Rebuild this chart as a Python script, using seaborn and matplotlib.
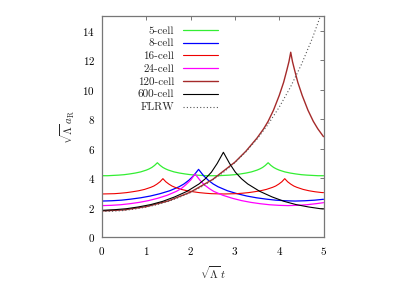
import matplotlib
matplotlib.use("Agg")
import matplotlib.pyplot as plt
import seaborn as sns

# ---- data ----
cell5_t = [0, 0.125, 0.25, 0.375, 0.5, 0.625, 0.75, 0.875, 1.0, 1.0625, 1.125, 1.1875, 1.25,
           1.3125, 1.375, 1.4375, 1.5, 1.625, 1.75, 1.875, 2.0, 2.125, 2.25, 2.375, 2.5,
           2.625, 2.75, 2.875, 3.0, 3.125, 3.25, 3.375, 3.5, 3.5625, 3.625, 3.6875, 3.75,
           3.8125, 3.875, 3.9375, 4.0, 4.125, 4.25, 4.375, 4.5, 4.625, 4.75, 4.875, 5.0]
cell5_a = [4.16, 4.16, 4.18, 4.20, 4.23, 4.28, 4.34, 4.42, 4.54, 4.62, 4.72, 4.86, 5.04,
           4.86, 4.72, 4.62, 4.54, 4.42, 4.34, 4.28, 4.23, 4.20, 4.18, 4.16, 4.16,
           4.16, 4.18, 4.20, 4.23, 4.28, 4.34, 4.42, 4.54, 4.62, 4.72, 4.86, 5.04,
           4.86, 4.72, 4.62, 4.54, 4.42, 4.34, 4.28, 4.23, 4.20, 4.18, 4.16, 4.16]

cell8_t = [0, 0.22, 0.44, 0.65, 0.87, 1.09, 1.31, 1.53, 1.74, 1.85, 1.96, 2.07, 2.18,
           2.29, 2.40, 2.51, 2.62, 2.83, 3.05, 3.27, 3.49, 3.71, 3.92, 4.14, 4.36,
           4.58, 4.80, 5.0]
cell8_a = [2.44, 2.46, 2.50, 2.57, 2.66, 2.78, 2.94, 3.14, 3.41, 3.60, 3.85, 4.17, 4.59,
           4.17, 3.85, 3.60, 3.41, 3.14, 2.94, 2.78, 2.66, 2.57, 2.50, 2.46, 2.44,
           2.46, 2.50, 2.56]

cell16_t = [0, 0.14, 0.28, 0.41, 0.55, 0.69, 0.83, 0.96, 1.10, 1.17, 1.24, 1.31, 1.375,
            1.44, 1.51, 1.58, 1.65, 1.79, 1.92, 2.06, 2.20, 2.34, 2.47, 2.61, 2.75,
            2.89, 3.03, 3.16, 3.30, 3.44, 3.58, 3.71, 3.85, 3.92, 3.99, 4.06, 4.125,
            4.19, 4.26, 4.33, 4.40, 4.54, 4.67, 4.81, 4.95, 5.0]
cell16_a = [2.92, 2.93, 2.94, 2.97, 3.01, 3.07, 3.14, 3.23, 3.37, 3.46, 3.59, 3.75, 3.96,
            3.75, 3.59, 3.46, 3.37, 3.23, 3.14, 3.07, 3.01, 2.97, 2.94, 2.93, 2.92,
            2.93, 2.94, 2.97, 3.01, 3.07, 3.14, 3.23, 3.37, 3.46, 3.59, 3.75, 3.96,
            3.75, 3.59, 3.46, 3.37, 3.23, 3.14, 3.07, 3.02, 3.01]

cell24_t = [0, 0.21, 0.42, 0.63, 0.84, 1.05, 1.26, 1.47, 1.68, 1.79, 1.89, 2.00, 2.10,
            2.21, 2.31, 2.42, 2.52, 2.73, 2.94, 3.15, 3.36, 3.57, 3.78, 3.99, 4.20,
            4.41, 4.62, 4.83, 5.0]
cell24_a = [2.13, 2.15, 2.19, 2.26, 2.35, 2.47, 2.63, 2.83, 3.10, 3.29, 3.54, 3.86, 4.28,
            3.86, 3.54, 3.29, 3.10, 2.83, 2.63, 2.47, 2.35, 2.26, 2.19, 2.15, 2.13,
            2.15, 2.19, 2.26, 2.33]

cell120_t = [0, 0.5, 1.0, 1.5, 2.0, 2.5, 3.0, 3.25, 3.5, 3.65, 3.75, 3.87, 4.0, 4.1,
             4.17, 4.22, 4.26, 4.30, 4.35, 4.42, 4.52, 4.65, 4.77, 4.87, 5.0]
cell120_a = [1.77, 1.84, 2.06, 2.45, 3.05, 3.91, 5.08, 5.83, 6.72, 7.35, 7.85, 8.6, 9.6, 10.5,
             11.3, 11.9, 12.54, 11.9, 11.3, 10.5, 9.6, 8.6, 7.85, 7.35, 6.81]

cell600_t = [0, 0.27, 0.55, 0.82, 1.10, 1.37, 1.64, 1.92, 2.19, 2.33, 2.47, 2.60, 2.74,
             2.88, 3.01, 3.15, 3.29, 3.56, 3.84, 4.11, 4.38, 4.66, 4.93, 5.0]
cell600_a = [1.81, 1.85, 1.92, 2.04, 2.20, 2.42, 2.72, 3.10, 3.60, 3.95, 4.40, 4.99, 5.75,
             4.99, 4.40, 3.95, 3.60, 3.10, 2.72, 2.42, 2.20, 2.04, 1.92, 1.90]

flrw_t = [0, 0.25, 0.5, 0.75, 1.0, 1.25, 1.5, 1.75, 2.0, 2.25, 2.5, 2.75, 3.0, 3.25, 3.5,
          3.75, 4.0, 4.25, 4.5, 4.75, 5.0]
flrw_a = [1.73, 1.75, 1.80, 1.90, 2.03, 2.20, 2.42, 2.70, 3.02, 3.41, 3.88, 4.41, 5.05, 5.79,
          6.65, 7.65, 8.81, 10.15, 11.70, 13.50, 15.58]

labels = ["5-cell", "8-cell", "16-cell", "24-cell", "120-cell", "600-cell", "FLRW"]
x_ticks = [0, 1, 2, 3, 4, 5]
y_ticks = [0, 2, 4, 6, 8, 10, 12, 14]

# ---- style ----
sns.set_theme(style="white")
plt.rcParams["font.family"] = ["cmr10", "DejaVu Serif"]
plt.rcParams["mathtext.fontset"] = "cm"
plt.rcParams["axes.formatter.use_mathtext"] = True

fig = plt.figure(figsize=(4.02, 2.82), dpi=100)
ax = fig.add_axes([102 / 402, 45 / 282, 221.5 / 402, 221 / 282])

series = [
    (cell5_t, cell5_a, "#33ee33", "-", 0.9),
    (cell8_t, cell8_a, "#0000ff", "-", 0.9),
    (cell16_t, cell16_a, "#ee0000", "-", 0.8),
    (cell24_t, cell24_a, "#ff00ff", "-", 0.9),
    (cell120_t, cell120_a, "#a52a2a", "-", 1.0),
    (cell600_t, cell600_a, "#000000", "-", 0.8),
    (flrw_t, flrw_a, "#555555", (0, (1, 2)), 0.8),
]
for (t, a, c, ls, lw), lab in zip(series, labels):
    sns.lineplot(x=t, y=a, ax=ax, color=c, linestyle=ls, linewidth=lw,
                 label=lab, sort=False, estimator=None, legend=False)

ax.set_xlim(0, 5)
ax.set_ylim(0, 15)
ax.set_xticks(x_ticks)
ax.set_yticks(y_ticks)
for s in ax.spines.values():
    s.set_color("#777777")
    s.set_linewidth(0.9)
ax.tick_params(direction="in", length=3, width=0.7, colors="#777777",
               top=True, right=True, labelsize=8, labelcolor="black")
ax.tick_params(axis="x", pad=6)
ax.tick_params(axis="y", pad=5)

ax.set_xlabel(r"$\sqrt{\Lambda}\,t$", fontsize=8)
ax.set_ylabel(r"$\sqrt{\Lambda}\,a_{\rm R}$", fontsize=8)
ax.xaxis.set_label_coords(0.5, -0.125)
ax.yaxis.set_label_coords(-0.115, 0.5)

# legend: handles only, labels drawn right-aligned to the left of each handle
handles = list(ax.get_lines())
leg = ax.legend(handles, [""] * len(handles), loc="upper left",
                bbox_to_anchor=((182.7 - 102) / 221.5, 0.955), frameon=False,
                fontsize=8, handlelength=3.2, handletextpad=0.0,
                labelspacing=0.27, borderpad=0, borderaxespad=0, markerfirst=False)
fig.canvas.draw()
renderer = fig.canvas.get_renderer()
W, H = fig.bbox.width, fig.bbox.height
for h, lab in zip(leg.legend_handles, labels):
    bb = h.get_window_extent(renderer)
    fig.text((bb.x0 - 8.5) / W, (bb.y0 + bb.y1) / 2 / H, lab, ha="right",
             va="center_baseline", fontsize=8)

fig.savefig("out.png", dpi=100)
